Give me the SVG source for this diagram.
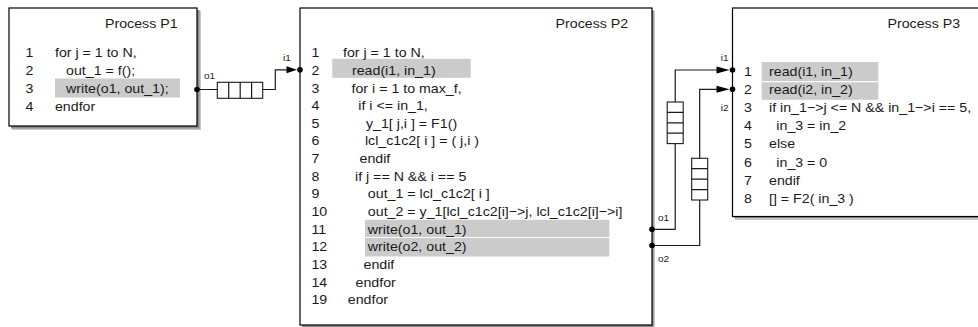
<svg xmlns="http://www.w3.org/2000/svg" width="978" height="327" viewBox="0 0 978 327">
  <style>
    .box { fill: #ffffff; stroke: #000000; stroke-width: 1.2; }
    .sh1 { fill: #c6c6c6; }
    .sh2 { fill: #8a8a8a; }
    .hl { fill: #cbcbcb; }
    .code { font-family: "Liberation Sans", Arial, Helvetica, sans-serif; font-size: 12.8px; fill: #1a1a1a; }
    .lbl { font-family: "Liberation Sans", Arial, Helvetica, sans-serif; font-size: 9px; fill: #1a1a1a; }
    .wire { fill: none; stroke: #1a1a1a; stroke-width: 1.2; }
    .fifo { fill: #ffffff; stroke: #1a1a1a; stroke-width: 1.1; }
    .dot { fill: #000000; }
    .head { fill: #000000; }
  </style>

  <!-- Process P1 -->
  <g id="p1">
    <rect class="sh1" x="12" y="11" width="189" height="119"/>
    <rect class="sh2" x="11" y="10" width="188.5" height="118.5"/>
    <rect class="box" x="9" y="8" width="188" height="118"/>
    <rect class="hl" x="55" y="78.5" width="125" height="19"/>
    <g class="code" transform="scale(1.11 1)">
      <text x="94.6" y="28">Process P1</text>
      <text x="23" y="57.3">1</text>
      <text x="23" y="75.1">2</text>
      <text x="23" y="92.9">3</text>
      <text x="23" y="110.7">4</text>
      <text x="49.5" y="57.3">for j = 1 to N,</text>
      <text x="59.5" y="75.1">out_1 = f();</text>
      <text x="59.5" y="92.9">write(o1, out_1);</text>
      <text x="49.5" y="110.7">endfor</text>
    </g>
  </g>

  <!-- Process P2 -->
  <g id="p2">
    <rect class="sh1" x="303" y="11" width="352" height="320"/>
    <rect class="sh2" x="302" y="10" width="351.5" height="318"/>
    <rect class="box" x="300" y="8" width="352" height="317"/>
    <rect class="hl" x="332.3" y="58.8" width="138.4" height="19"/>
    <rect class="hl" x="365" y="219.8" width="244.3" height="17.2"/>
    <rect class="hl" x="365" y="238" width="244.3" height="18.5"/>
    <g class="code" transform="scale(1.11 1)">
      <text x="500.5" y="28">Process P2</text>
      <text x="280.6" y="57.3">1</text>
      <text x="280.6" y="74.9">2</text>
      <text x="280.6" y="92.6">3</text>
      <text x="280.6" y="110.2">4</text>
      <text x="280.6" y="127.9">5</text>
      <text x="280.6" y="145.5">6</text>
      <text x="280.6" y="163.1">7</text>
      <text x="280.6" y="180.8">8</text>
      <text x="280.6" y="198.4">9</text>
      <text x="280.6" y="216.1">10</text>
      <text x="280.6" y="233.7">11</text>
      <text x="280.6" y="251.3">12</text>
      <text x="280.6" y="269">13</text>
      <text x="280.6" y="286.6">14</text>
      <text x="280.6" y="304.3">19</text>
      <text x="309" y="57.3">for j = 1 to N,</text>
      <text x="317.1" y="74.9">read(i1, in_1)</text>
      <text x="316.7" y="92.6">for i = 1 to max_f,</text>
      <text x="322.8" y="110.2">if i &lt;= in_1,</text>
      <text x="329.7" y="127.9">y_1[ j,i ] = F1()</text>
      <text x="328.8" y="145.5">lcl_c1c2[ i ] = ( j,i )</text>
      <text x="323.9" y="163.1">endif</text>
      <text x="319.8" y="180.8">if j == N &amp;&amp; i == 5</text>
      <text x="331.4" y="198.4">out_1 = lcl_c1c2[ i ]</text>
      <text x="331.4" y="216.1">out_2 = y_1[lcl_c1c2[i]−&gt;j, lcl_c1c2[i]−&gt;i]</text>
      <text x="331.4" y="233.7">write(o1, out_1)</text>
      <text x="331.4" y="251.3">write(o2, out_2)</text>
      <text x="327.5" y="269">endif</text>
      <text x="320.3" y="286.6">endfor</text>
      <text x="313.3" y="304.3">endfor</text>
    </g>
  </g>

  <!-- Process P3 -->
  <g id="p3">
    <rect class="sh1" x="735" y="11" width="260" height="209"/>
    <rect class="sh2" x="734" y="10" width="260" height="208"/>
    <rect class="box" x="732.5" y="8" width="260" height="208.5"/>
    <rect class="hl" x="761.7" y="62" width="116.6" height="19"/>
    <rect class="hl" x="761.7" y="82.3" width="116.6" height="17.5"/>
    <g class="code" transform="scale(1.11 1)">
      <text x="799.5" y="28">Process P3</text>
      <text x="670.3" y="76.2">1</text>
      <text x="670.3" y="94.3">2</text>
      <text x="670.3" y="112.4">3</text>
      <text x="670.3" y="130.4">4</text>
      <text x="670.3" y="148.5">5</text>
      <text x="670.3" y="166.6">6</text>
      <text x="670.3" y="184.7">7</text>
      <text x="670.3" y="202.8">8</text>
      <text x="692.8" y="76.2">read(i1, in_1)</text>
      <text x="692.8" y="94.3">read(i2, in_2)</text>
      <text x="692.8" y="112.4">if in_1−&gt;j &lt;= N &amp;&amp; in_1−&gt;i == 5,</text>
      <text x="699.4" y="130.4">in_3 = in_2</text>
      <text x="692.8" y="148.5">else</text>
      <text x="699.4" y="166.6">in_3 = 0</text>
      <text x="692.8" y="184.7">endif</text>
      <text x="692.8" y="202.8">[] = F2( in_3 )</text>
    </g>
  </g>

  <!-- Channels between the processes -->
  <g id="connectors">
    <!-- P1.o1 to P2.i1 -->
    <path class="wire" d="M197,89.5 H275.3 V69.8 H290"/>
    <rect class="fifo" x="217.3" y="82.3" width="45.4" height="16"/>
    <path class="wire" d="M228.7,82.3 V98.3 M240.2,82.3 V98.3 M251.6,82.3 V98.3"/>
    <polygon class="head" points="297,69.8 286.5,66.3 286.5,73.3"/>

    <!-- P2.o1 to P3.i1 -->
    <path class="wire" d="M652,229.3 H675.2 V70 H722"/>
    <rect class="fifo" x="667.2" y="102" width="16" height="41.6"/>
    <path class="wire" d="M667.2,112.4 H683.2 M667.2,122.8 H683.2 M667.2,133.2 H683.2"/>
    <polygon class="head" points="729.5,70 716.5,66.5 716.5,73.5"/>

    <!-- P2.o2 to P3.i2 -->
    <path class="wire" d="M652,245.5 H699.7 V89.3 H722"/>
    <rect class="fifo" x="691.7" y="158.3" width="16" height="41.7"/>
    <path class="wire" d="M691.7,168.7 H707.7 M691.7,179.1 H707.7 M691.7,189.6 H707.7"/>
    <polygon class="head" points="729.5,89.3 716.5,85.8 716.5,92.8"/>

    <!-- ports -->
    <circle class="dot" cx="197" cy="89.5" r="2.8"/>
    <circle class="dot" cx="300" cy="69.8" r="2.8"/>
    <circle class="dot" cx="652" cy="229.3" r="2.8"/>
    <circle class="dot" cx="652" cy="245.5" r="2.8"/>
    <circle class="dot" cx="732.5" cy="70" r="2.8"/>
    <circle class="dot" cx="732.5" cy="89.3" r="2.8"/>

    <!-- port names -->
    <g class="lbl" transform="scale(1.11 1)">
      <text x="183.8" y="79">o1</text>
      <text x="255" y="60.7">i1</text>
      <text x="592.8" y="220.7">o1</text>
      <text x="592.8" y="261.7">o2</text>
      <text x="649.3" y="60.7">i1</text>
      <text x="649.3" y="110.7">i2</text>
    </g>
  </g>
</svg>
